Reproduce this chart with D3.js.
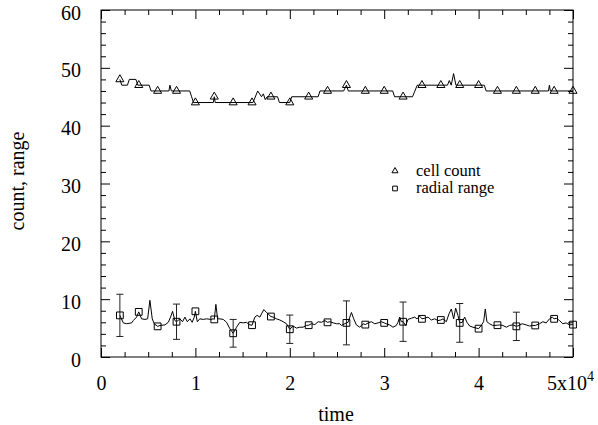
<!DOCTYPE html>
<html>
<head>
<meta charset="utf-8">
<script src="https://cdn.jsdelivr.net/npm/d3@7"></script>
<style>
  body { margin: 0; background: #fff; }
  svg text { font-family: "Liberation Serif", "DejaVu Serif", "Times New Roman", Times, serif; fill: #000; }
</style>
</head>
<body>
<div id="chart"></div>
<script>
// time in raw units, the axis shows them in units of 10^4
var markerTime = [2000, 4000, 6000, 8000, 10000, 12000, 14000, 16000, 18000, 20000,
  22000, 24000, 26000, 28000, 30000, 32000, 34000, 36000, 38000, 40000,
  42000, 44000, 46000, 48000, 50000];
var cellCount = [48, 47, 46, 46, 44, 45, 44, 44, 45, 44,
  45, 46, 47, 46, 46, 45, 47, 47, 47, 47,
  46, 46, 46, 46, 46];
var radialRange = [7.2, 7.8, 5.3, 6.1, 7.9, 6.5, 4.1, 5.5, 7.0, 4.8,
  5.5, 6.0, 5.9, 5.6, 5.9, 6.1, 6.6, 6.4, 5.9, 4.9,
  5.5, 5.3, 5.45, 6.6, 5.6];

// error bars on radial range (half widths)
var errTime = [2000, 8000, 14000, 20000, 26000, 32000, 38000, 44000];
var errHalf = [3.65, 3.05, 2.4, 2.45, 3.8, 3.4, 3.35, 2.45];

// cell count trace
var countLineTime = [2000, 2200, 2800, 3000, 3700, 3900, 5100, 5300, 7200, 7300,
  7450, 9400, 9600, 9800, 11900, 12000, 12100, 16100, 16600, 17000,
  17200, 17400, 17600, 18700, 18900, 20000, 20200, 23000, 23200, 25700,
  26000, 26200, 30900, 31100, 33000, 33500, 36700, 36900, 37100, 37350,
  37600, 37800, 40600, 40800, 47400, 47500, 47600, 50000];
var countLineValue = [48, 47, 47, 48, 48, 47, 47, 46, 46, 47,
  46, 46, 45, 44, 44, 45, 44, 44, 46, 45,
  45.5, 44.5, 45, 45, 44, 44, 45, 45, 46, 46,
  47, 46, 46, 45, 45, 47, 47, 47.8, 47, 49,
  47, 47, 47, 46, 46, 47, 46, 46];

// radial range trace
var rangeLineTime = [2000, 2360, 2720, 3250, 3420, 3770, 4000, 4300, 4660, 4940,
  5180, 5430, 5640, 6000, 6240, 6770, 7130, 7370, 7580, 7830,
  8000, 8360, 8640, 8890, 9140, 9420, 9660, 9880, 10000, 10200,
  10470, 10830, 11180, 11640, 11890, 12000, 12170, 12350, 12590, 12950,
  13300, 13650, 14000, 14360, 14700, 15060, 15400, 15770, 16000, 16300,
  16540, 16830, 17000, 17250, 17530, 17700, 18000, 18230, 18590, 18940,
  19300, 19650, 20000, 20350, 20700, 21060, 21400, 21760, 22000, 22290,
  22650, 23000, 23350, 23700, 24000, 24240, 24600, 24940, 25300, 25470,
  26000, 26170, 26530, 26770, 27050, 27400, 27760, 28000, 28300, 28640,
  29000, 29350, 29700, 30000, 30200, 30580, 30930, 31280, 31460, 31640,
  31820, 32000, 32280, 32520, 32880, 33230, 33470, 33760, 34000, 34280,
  34640, 34990, 35340, 35700, 36000, 36230, 36580, 36860, 37110, 37360,
  37570, 37810, 38000, 38270, 38520, 38770, 39050, 39400, 39750, 40000,
  40280, 40530, 40710, 40880, 41160, 41500, 42000, 42220, 42570, 42930,
  43280, 43630, 44000, 44270, 44620, 45040, 45400, 45750, 46000, 46450,
  46810, 47160, 47510, 47800, 48000, 48220, 48570, 48920, 49270, 49630,
  50000];
var rangeLineValue = [7.2, 5.9, 5.75, 5.9, 6.3, 6.9, 7.8, 6.6, 6.5, 6.6,
  9.8, 6.6, 5.75, 5.3, 5.45, 5.55, 6.0, 6.9, 7.9, 6.3,
  6.1, 6.6, 6.1, 6.9, 6.1, 6.6, 6.0, 6.9, 7.9, 6.1,
  6.6, 6.5, 6.6, 6.5, 6.6, 6.5, 9.1, 6.6, 6.6, 6.5,
  6.0, 4.9, 4.1, 5.15, 6.0, 5.9, 6.0, 5.55, 5.5, 6.9,
  7.2, 6.9, 7.45, 8.2, 7.7, 7.45, 7.0, 6.9, 6.6, 6.4,
  6.1, 5.75, 4.8, 5.35, 5.0, 5.15, 5.15, 5.45, 5.5, 5.75,
  5.6, 6.1, 6.0, 6.3, 6.0, 6.1, 5.9, 5.75, 5.75, 5.45,
  5.9, 6.0, 7.7, 6.6, 5.55, 5.15, 5.75, 5.6, 5.9, 6.1,
  5.75, 5.9, 6.1, 5.9, 5.75, 5.55, 5.15, 5.45, 6.0, 6.9,
  6.1, 6.1, 5.45, 6.5, 6.7, 6.9, 6.6, 7.05, 6.6, 6.7,
  6.9, 6.4, 6.6, 6.3, 6.4, 6.6, 6.1, 7.45, 8.3, 6.6,
  8.45, 7.2, 5.9, 6.0, 6.9, 6.0, 5.35, 5.15, 5.0, 4.9,
  5.45, 6.1, 8.3, 6.1, 5.75, 5.45, 5.5, 5.55, 5.45, 5.15,
  5.45, 5.55, 5.3, 5.45, 5.75, 5.55, 5.35, 5.45, 5.45, 5.75,
  6.1, 5.9, 6.6, 6.9, 6.6, 6.7, 6.3, 5.75, 5.9, 5.55,
  5.6];

// axis ticks
var xMajorTicks = [0, 10000, 20000, 30000, 40000, 50000];
var xTickLabels = ["0", "1", "2", "3", "4", "5x10"];
var xMinorTicks = [2500, 5000, 7500, 12500, 15000, 17500, 22500, 25000, 27500,
  32500, 35000, 37500, 42500, 45000, 47500];
var yMajorTicks = [0, 10, 20, 30, 40, 50, 60];
var yMinorTicks = [2, 4, 6, 8, 12, 14, 16, 18, 22, 24, 26, 28, 32, 34, 36, 38,
  42, 44, 46, 48, 52, 54, 56, 58];

var legendLabels = ["cell count", "radial range"];

/********************************************************/
var serif = "'Liberation Serif', 'DejaVu Serif', 'Times New Roman', Times, serif";

var svgWidth = 598;
var svgHeight = 425;

var margin = {
  top: 10,
  right: 25,
  bottom: 68,
  left: 101
};

var width = svgWidth - margin.left - margin.right;
var height = svgHeight - margin.top - margin.bottom;

var svg = d3.select("#chart")
  .append("svg")
  .attr("width", svgWidth)
  .attr("height", svgHeight)
  .style("font-family", serif);

var chartGroup = svg.append("g")
  .attr("transform", `translate(${margin.left}, ${margin.top})`);

var xScale = d3.scaleLinear().domain([0, 50000]).range([0, width]);
var yScale = d3.scaleLinear().domain([0, 60]).range([height, 0]);

/********************************************************/
// frame + ticks, all pointing inwards
function styleAxis(g) {
  g.attr("font-family", null).attr("font-size", null);
  g.selectAll("path.domain").remove();
  g.selectAll("line").attr("stroke", "#000");
  g.selectAll("text")
    .style("font-family", serif)
    .style("font-size", "20px");
}

// bottom
var bottomAxis = d3.axisBottom(xScale)
  .tickValues(xMajorTicks)
  .tickSizeInner(-9).tickSizeOuter(0)
  .tickPadding(19)
  .tickFormat((d, i) => xTickLabels[i]);
var bottomG = chartGroup.append("g")
  .attr("transform", `translate(0, ${height})`)
  .call(bottomAxis)
  .call(styleAxis);
chartGroup.append("g")
  .attr("transform", `translate(0, ${height})`)
  .call(d3.axisBottom(xScale).tickValues(xMinorTicks).tickSizeInner(-5).tickSizeOuter(0).tickFormat(""))
  .call(styleAxis);

// superscript on the last label
bottomG.selectAll(".tick text")
  .filter((d) => d === 50000)
  .attr("dx", -3)
  .append("tspan")
  .attr("dy", -9)
  .style("font-size", "14px")
  .text("4");

// top
chartGroup.append("g")
  .call(d3.axisTop(xScale).tickValues(xMajorTicks).tickSizeInner(-9).tickSizeOuter(0).tickFormat(""))
  .call(styleAxis);
chartGroup.append("g")
  .call(d3.axisTop(xScale).tickValues(xMinorTicks).tickSizeInner(-5).tickSizeOuter(0).tickFormat(""))
  .call(styleAxis);

// left
var leftG = chartGroup.append("g")
  .call(d3.axisLeft(yScale).tickValues(yMajorTicks).tickSizeInner(-9).tickSizeOuter(0).tickPadding(20))
  .call(styleAxis);
leftG.selectAll(".tick text").attr("dy", "0.45em");
chartGroup.append("g")
  .call(d3.axisLeft(yScale).tickValues(yMinorTicks).tickSizeInner(-5).tickSizeOuter(0).tickFormat(""))
  .call(styleAxis);

// right
chartGroup.append("g")
  .attr("transform", `translate(${width}, 0)`)
  .call(d3.axisRight(yScale).tickValues(yMajorTicks).tickSizeInner(-9).tickSizeOuter(0).tickFormat(""))
  .call(styleAxis);
chartGroup.append("g")
  .attr("transform", `translate(${width}, 0)`)
  .call(d3.axisRight(yScale).tickValues(yMinorTicks).tickSizeInner(-5).tickSizeOuter(0).tickFormat(""))
  .call(styleAxis);

chartGroup.append("rect")
  .attr("x", 0)
  .attr("y", 0)
  .attr("width", width)
  .attr("height", height)
  .attr("fill", "none")
  .attr("stroke", "#000")
  .attr("stroke-width", 1);

/********************************************************/
// lines
var line = d3.line()
  .x(d => xScale(d[0]))
  .y(d => yScale(d[1]));

chartGroup.append("path")
  .datum(countLineTime.map((t, i) => [t, countLineValue[i]]))
  .attr("d", line)
  .attr("fill", "none")
  .attr("stroke", "#000")
  .attr("stroke-width", 1);

chartGroup.append("path")
  .datum(rangeLineTime.map((t, i) => [t, rangeLineValue[i]]))
  .attr("d", line)
  .attr("fill", "none")
  .attr("stroke", "#000")
  .attr("stroke-width", 1);

// error bars
var errData = errTime.map((t, i) => {
  var center = radialRange[markerTime.indexOf(t)];
  return { t: t, lo: center - errHalf[i], hi: center + errHalf[i] };
});

var errGroup = chartGroup.selectAll(".err")
  .data(errData)
  .enter()
  .append("g")
  .attr("class", "err")
  .attr("stroke", "#222")
  .attr("stroke-width", 1);

errGroup.append("line")
  .attr("x1", d => xScale(d.t)).attr("x2", d => xScale(d.t))
  .attr("y1", d => yScale(d.lo)).attr("y2", d => yScale(d.hi));
errGroup.append("line")
  .attr("x1", d => xScale(d.t) - 3.5).attr("x2", d => xScale(d.t) + 3.5)
  .attr("y1", d => yScale(d.lo)).attr("y2", d => yScale(d.lo));
errGroup.append("line")
  .attr("x1", d => xScale(d.t) - 3.5).attr("x2", d => xScale(d.t) + 3.5)
  .attr("y1", d => yScale(d.hi)).attr("y2", d => yScale(d.hi));

// markers
var triangle = d3.symbol().type(d3.symbolTriangle).size(28);
var square = d3.symbol().type(d3.symbolSquare).size(46);

chartGroup.selectAll(".tri")
  .data(markerTime)
  .enter()
  .append("path")
  .attr("class", "tri")
  .attr("d", triangle)
  .attr("transform", (d, i) => `translate(${xScale(d)}, ${yScale(cellCount[i])})`)
  .attr("fill", "none")
  .attr("stroke", "#000");

chartGroup.selectAll(".sq")
  .data(markerTime)
  .enter()
  .append("path")
  .attr("class", "sq")
  .attr("d", square)
  .attr("transform", (d, i) => `translate(${xScale(d)}, ${yScale(radialRange[i])})`)
  .attr("fill", "none")
  .attr("stroke", "#000");

/********************************************************/
// legend
var legend = svg.append("g");
legend.append("path")
  .attr("d", d3.symbol().type(d3.symbolTriangle).size(16))
  .attr("transform", "translate(395, 171)")
  .attr("fill", "none")
  .attr("stroke", "#000");
legend.append("path")
  .attr("d", d3.symbol().type(d3.symbolSquare).size(22))
  .attr("transform", "translate(395, 188.5)")
  .attr("fill", "none")
  .attr("stroke", "#000");
legend.selectAll("text")
  .data(legendLabels)
  .enter()
  .append("text")
  .attr("x", 416)
  .attr("y", (d, i) => 175.5 + i * 17.5)
  .style("font-size", "16.5px")
  .text(d => d);

// axis titles
svg.append("text")
  .attr("x", 336)
  .attr("y", 421)
  .attr("text-anchor", "middle")
  .style("font-size", "20px")
  .text("time");

svg.append("text")
  .attr("transform", "rotate(-90)")
  .attr("x", -181)
  .attr("y", 24)
  .attr("text-anchor", "middle")
  .style("font-size", "20px")
  .text("count, range");
</script>
</body>
</html>
